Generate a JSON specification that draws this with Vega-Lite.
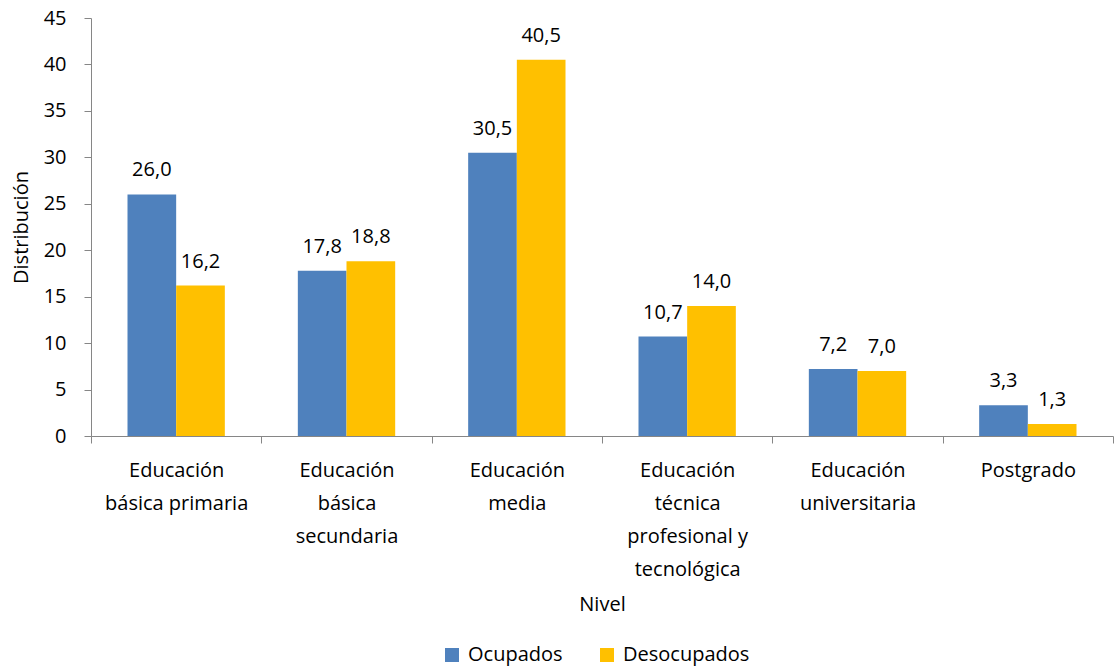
{
  "$schema": "https://vega.github.io/schema/vega-lite/v6.json",
  "width": 1022,
  "height": 418,
  "autosize": {"type": "none"},
  "padding": {"left": 91, "top": 18, "right": 1, "bottom": 232},
  "background": "white",
  "config": {
    "view": {"stroke": null},
    "font": "Open Sans",
    "locale": {"number": {"decimal": ",", "thousands": ".", "grouping": [3], "currency": ["", " €"]}},
    "axis": {"grid": false, "domainColor": "#868686", "tickColor": "#868686", "tickSize": 7, "labelColor": "#000000", "titleColor": "#000000", "labelFont": "Open Sans", "titleFont": "Open Sans", "titleFontWeight": "normal", "labelFontSize": 20, "titleFontSize": 20}
  },
  "data": {
    "values": [
      {"nivel": "Educación básica primaria", "serie": "Ocupados", "valor": 26.0},
      {"nivel": "Educación básica primaria", "serie": "Desocupados", "valor": 16.2},
      {"nivel": "Educación básica secundaria", "serie": "Ocupados", "valor": 17.8},
      {"nivel": "Educación básica secundaria", "serie": "Desocupados", "valor": 18.8},
      {"nivel": "Educación media", "serie": "Ocupados", "valor": 30.5},
      {"nivel": "Educación media", "serie": "Desocupados", "valor": 40.5},
      {"nivel": "Educación técnica profesional y tecnológica", "serie": "Ocupados", "valor": 10.7},
      {"nivel": "Educación técnica profesional y tecnológica", "serie": "Desocupados", "valor": 14.0},
      {"nivel": "Educación universitaria", "serie": "Ocupados", "valor": 7.2},
      {"nivel": "Educación universitaria", "serie": "Desocupados", "valor": 7.0},
      {"nivel": "Postgrado", "serie": "Ocupados", "valor": 3.3},
      {"nivel": "Postgrado", "serie": "Desocupados", "valor": 1.3}
    ]
  },
  "encoding": {
    "x": {
      "field": "nivel", "type": "nominal", "sort": null, "title": "Nivel",
      "scale": {"paddingInner": 0, "paddingOuter": 0},
      "axis": {
        "labelAngle": 0, "labelFontSize": 20, "labelLineHeight": 33, "tickBand": "extent", "labelPadding": 17,
        "titleFontSize": 20, "titlePadding": 15,
        "labelExpr": "datum.value == 'Educación básica primaria' ? ['Educación', 'básica primaria'] : datum.value == 'Educación básica secundaria' ? ['Educación', 'básica', 'secundaria'] : datum.value == 'Educación media' ? ['Educación', 'media'] : datum.value == 'Educación técnica profesional y tecnológica' ? ['Educación', 'técnica', 'profesional y', 'tecnológica'] : datum.value == 'Educación universitaria' ? ['Educación', 'universitaria'] : datum.value"
      }
    },
    "xOffset": {"field": "serie", "type": "nominal", "sort": ["Ocupados", "Desocupados"], "scale": {"paddingInner": 0, "paddingOuter": 0.75}},
    "y": {
      "field": "valor", "type": "quantitative", "title": "Distribución",
      "scale": {"domain": [0, 45], "nice": false},
      "axis": {"values": [0, 5, 10, 15, 20, 25, 30, 35, 40, 45], "labelFontSize": 20, "labelPadding": 18, "titleFontSize": 20, "titlePadding": 12}
    }
  },
  "layer": [
    {
      "mark": {"type": "bar"},
      "encoding": {
        "color": {
          "field": "serie", "type": "nominal", "sort": ["Ocupados", "Desocupados"],
          "scale": {"domain": ["Ocupados", "Desocupados"], "range": ["#4F81BD", "#FFC000"]},
          "legend": {"title": null, "orient": "none", "direction": "horizontal", "legendX": 351, "legendY": 627, "symbolType": "square", "symbolSize": 196, "symbolStrokeWidth": 0, "labelFontSize": 20, "labelFont": "Open Sans", "labelColor": "#000000", "columnPadding": 34, "labelOffset": 6, "padding": 0}
        }
      }
    },
    {
      "mark": {"type": "text", "dy": -24, "fontSize": 20, "baseline": "middle", "color": "#000000"},
      "encoding": {"text": {"field": "valor", "type": "quantitative", "format": ".1f"}}
    }
  ]
}
